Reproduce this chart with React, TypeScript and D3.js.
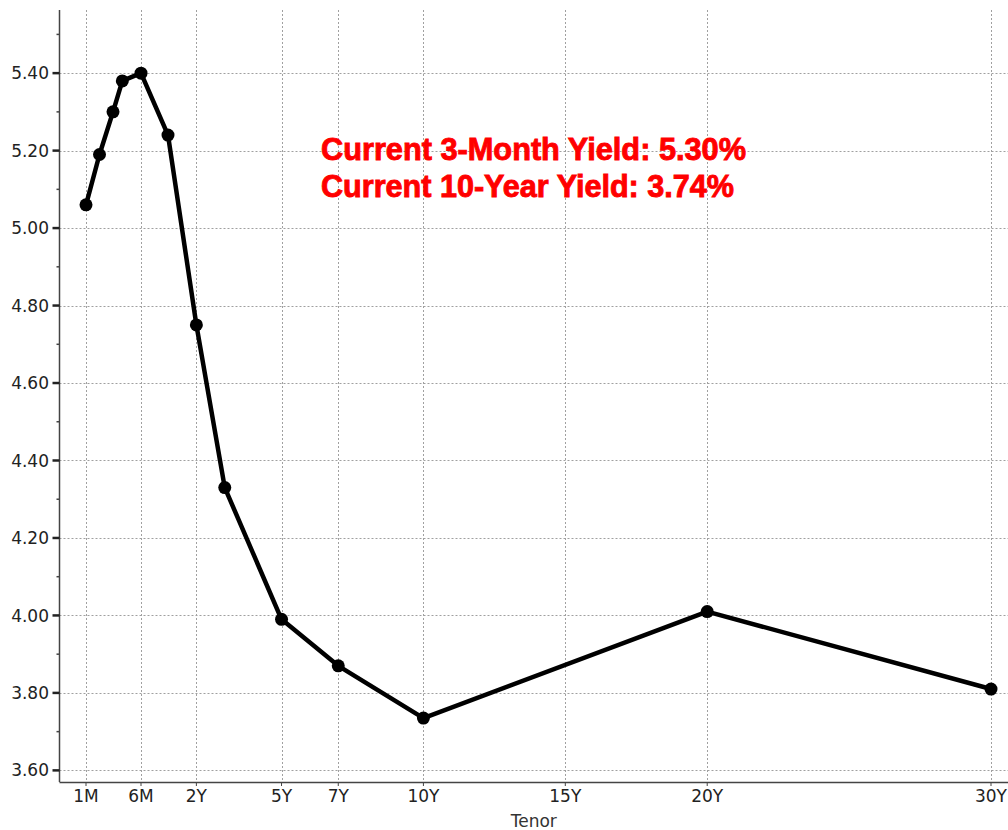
import React from "react";
import * as d3 from "d3";

const tenorMonths = [1, 2, 3, 4, 6, 12, 24, 36, 60, 84, 120, 240, 360];
const yields = [5.06, 5.19, 5.3, 5.38, 5.4, 5.24, 4.75, 4.33, 3.99, 3.87, 3.735, 4.01, 3.81];
const xTickMonths = [1, 6, 24, 60, 84, 120, 180, 240, 360];
const xTickLabels = ["1M", "6M", "2Y", "5Y", "7Y", "10Y", "15Y", "20Y", "30Y"];
const yMajorTicks = [3.6, 3.8, 4.0, 4.2, 4.4, 4.6, 4.8, 5.0, 5.2, 5.4];
const yMinorTicks = [3.7, 3.9, 4.1, 4.3, 4.5, 4.7, 4.9, 5.1, 5.3, 5.5];
const annotations = ["Current 3-Month Yield: 5.30%", "Current 10-Year Yield: 3.74%"];
const annotationWidths = [425, 413];

const W = 1008;
const H = 830;
const left = 59.5;
const top = 10;
const bottom = 782;

export default function App() {
  const x = d3
    .scaleLinear()
    .domain([1, 3, 6, 12, 360])
    .range([86, 113, 141, 168, 991]);
  const y = d3.scaleLinear().domain([3.57, 5.563]).range([bottom, top]);

  const pts: [number, number][] = tenorMonths.map((m, i) => [x(m), y(yields[i])]);
  const line = d3.line()(pts) || "";

  const font = "'DejaVu Sans', sans-serif";

  return (
    <svg
      width={W}
      height={H}
      style={{ position: "fixed", top: 0, left: 0, background: "#fff" }}
    >
      <rect x={0} y={0} width={W} height={H} fill="#fff" />
      {/* grid */}
      {yMajorTicks.map((t) => (
        <line
          key={"gy" + t}
          x1={left}
          x2={W}
          y1={Math.round(y(t)) + 0.5}
          y2={Math.round(y(t)) + 0.5}
          stroke="#a0a0a0"
          strokeDasharray="2,2"
        />
      ))}
      {xTickMonths.map((m) => (
        <line
          key={"gx" + m}
          x1={Math.round(x(m)) + 0.5}
          x2={Math.round(x(m)) + 0.5}
          y1={top}
          y2={bottom}
          stroke="#a0a0a0"
          strokeDasharray="2,2"
        />
      ))}
      {/* axes */}
      <line x1={left} x2={left} y1={top} y2={bottom} stroke="#444" strokeWidth={1.5} />
      <line x1={left} x2={W} y1={bottom + 0.5} y2={bottom + 0.5} stroke="#444" strokeWidth={1.5} />
      {yMajorTicks.map((t) => (
        <g key={"ty" + t}>
          <line x1={left - 7} x2={left} y1={y(t)} y2={y(t)} stroke="#222" strokeWidth={2.5} />
          <text
            x={49}
            y={y(t)}
            dy="0.36em"
            textAnchor="end"
            fontFamily={font}
            fontSize={17}
            fill="#222"
          >
            {t.toFixed(2)}
          </text>
        </g>
      ))}
      {yMinorTicks.map((t) => (
        <line key={"tm" + t} x1={left - 3} x2={left} y1={y(t)} y2={y(t)} stroke="#444" strokeWidth={1.5} />
      ))}
      {xTickMonths.map((m, i) => (
        <g key={"tx" + m}>
          <line x1={x(m)} x2={x(m)} y1={bottom} y2={bottom + 4} stroke="#444" strokeWidth={1} />
          <text
            x={x(m)}
            y={801.5}
            textAnchor="middle"
            fontFamily={font}
            fontSize={17}
            fill="#222"
          >
            {xTickLabels[i]}
          </text>
        </g>
      ))}
      <text
        x={(left + W) / 2}
        y={827}
        textAnchor="middle"
        fontFamily={font}
        fontSize={17}
        fill="#333"
      >
        Tenor
      </text>
      {/* series */}
      <path d={line} fill="none" stroke="#000" strokeWidth={4.5} strokeLinejoin="round" />
      {pts.map((p, i) => (
        <circle key={"p" + i} cx={p[0]} cy={p[1]} r={6.5} fill="#000" />
      ))}
      {/* annotation */}
      {annotations.map((a, i) => (
        <text
          key={"a" + i}
          x={321}
          y={160 + i * 37}
          fontFamily="'Liberation Sans Narrow', 'Liberation Sans', sans-serif"
          fontWeight="bold"
          fontSize={31}
          fill="#ff0000"
          stroke="#ff0000"
          strokeWidth={0.9}
          textLength={annotationWidths[i]}
          lengthAdjust="spacingAndGlyphs"
        >
          {a}
        </text>
      ))}
    </svg>
  );
}
